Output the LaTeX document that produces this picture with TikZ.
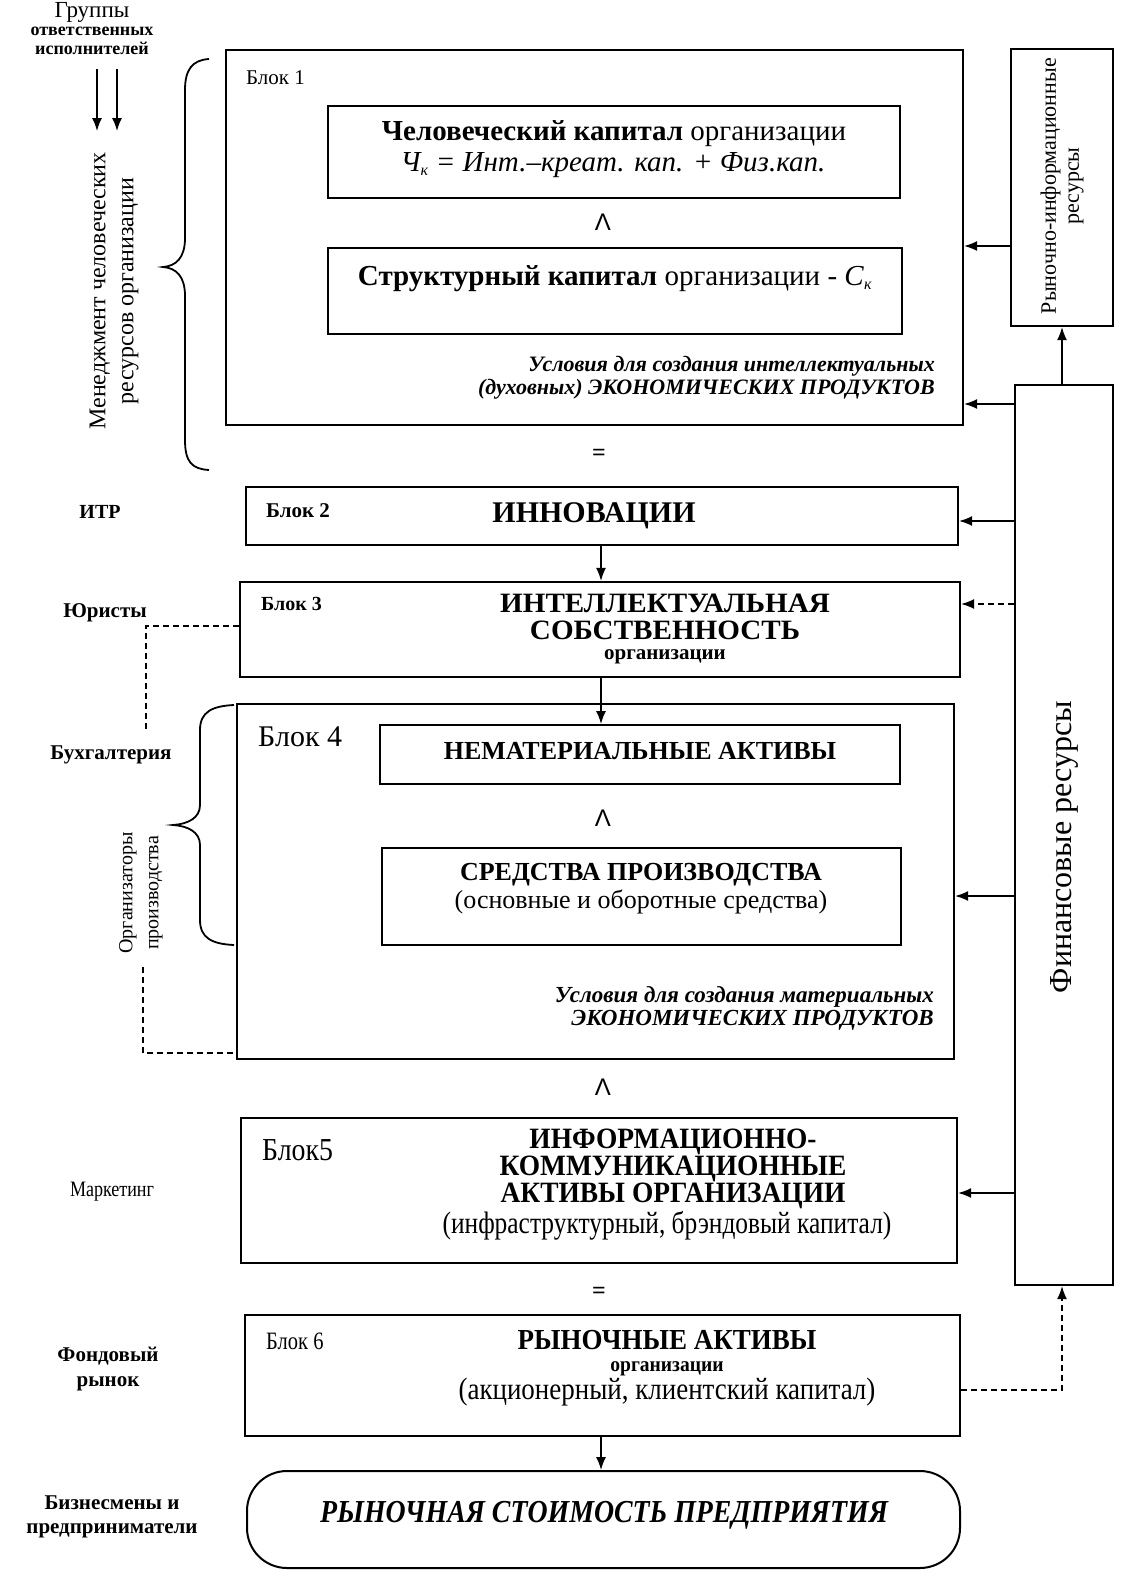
\documentclass[tikz,border=0pt]{standalone}
\usepackage{fontspec}
\setmainfont{Liberation Serif}
\newfontfamily\nserif[FakeStretch=0.82]{Liberation Serif}
\newfontfamily\mserif[FakeStretch=0.87]{Liberation Serif}
\newfontfamily\wserif[FakeStretch=0.93]{Liberation Serif}
\newfontfamily\xserif[FakeStretch=1.04]{Liberation Serif}
\newfontfamily\lsans{Liberation Sans}
\usetikzlibrary{arrows.meta,calc}
\newcommand\fsz[2]{\fontsize{#1}{#2}\selectfont}
\begin{document}
\begin{tikzpicture}[x=1pt,y=-1pt,
  blk/.style={draw, line width=2.2pt, inner sep=0pt},
  ibox/.style={draw, line width=2pt, inner sep=0pt},
  arr/.style={line width=1.5pt, -{Latex[length=13pt,width=10pt]}},
  darr/.style={arr, dash pattern=on 6pt off 4pt},
  dline/.style={line width=1.5pt, dash pattern=on 6pt off 4pt},
  lbl/.style={inner sep=0pt, align=center},
  brc/.style={line width=1.8pt},
  lam/.style={inner sep=0pt, font=\lsans\fsz{24}{24}},
]
\useasboundingbox (0,0) rectangle (1137,1596);

% ---------- top-left group label and arrows
\node[lbl, font=\fsz{23}{23}] (grp1) at (92,12) {Группы};
\node[lbl, font=\bfseries\fsz{18}{18}] (grp2) at (92,31) {ответственных};
\node[lbl, font=\bfseries\fsz{18}{18}] (grp3) at (92,48) {исполнителей};
\coordinate (a1s) at (97,69);  \coordinate (a1e) at (97,131);
\coordinate (a2s) at (117,69); \coordinate (a2e) at (117,131);
\draw[arr] (a1s) -- (a1e);
\draw[arr] (a2s) -- (a2e);
\node[lbl, rotate=90, font=\fsz{24}{28}] (mgmt) at (114,291) {Менеджмент человеческих\\ресурсов организации};
\draw[brc] (209,59) .. controls (192,60) and (185,70) .. (185,90) -- (185,238)
  .. controls (185,258) and (176,266) .. (163,267) .. controls (176,268) and (185,276) .. (185,296)
  -- (185,440) .. controls (185,462) and (192,469) .. (209,470);

% ---------- Block 1
\node[blk, minimum width=737pt, minimum height=375pt] (b1) at (594.5,237.5) {};
\node[lbl, anchor=west, font=\fsz{21}{21}] (b1lab) at (246,78) {Блок 1};
\node[ibox, minimum width=572pt, minimum height=92pt] (hk) at (614,152) {};
\node[lbl, font=\fsz{29}{29}] (hk1) at (614,134) {\textbf{Человеческий капитал} организации};
\node[lbl, font=\itshape\fsz{29}{29}] (hk2) at (613,165) {Ч$_{\mbox{\fsz{16}{16}\itshape к}}$ = Инт.–креат. кап. + Физ.кап.};
\node[lam] (and1) at (603,222) {Λ};
\node[ibox, minimum width=574pt, minimum height=86pt] (sk) at (615,291) {};
\node[lbl, font=\fsz{29}{29}] (sktxt) at (615,279) {\textbf{Структурный капитал} организации - \textit{С}$_{\mbox{\fsz{16}{16}\itshape к}}$};
\node[lbl, align=right, anchor=east, font=\bfseries\itshape\fsz{22}{23}] (b1cond) at (935,378) {Условия для создания интеллектуальных\\(духовных) ЭКОНОМИЧЕСКИХ ПРОДУКТОВ};

% ---------- right-hand resource boxes
\node[blk, minimum width=102pt, minimum height=277pt] (rir) at (1062,187.5) {};
\node[lbl, rotate=90, font=\fsz{22}{23}] (rirtxt) at (1062,186) {Рыночно-информационные\\ресурсы};
\node[blk, minimum width=98pt, minimum height=900pt] (fin) at (1064,835) {};
\node[lbl, rotate=90, font=\fsz{32}{34}] (fintxt) at (1064,847) {Финансовые ресурсы};

% ---------- equal sign
\node[lbl, font=\bfseries\fsz{24}{24}] (eq1) at (599,455) {=};

% ---------- Block 2
\node[lbl, font=\bfseries\fsz{20}{20}] (itr) at (100,512) {ИТР};
\node[blk, minimum width=712pt, minimum height=58pt] (b2) at (602,516) {};
\node[lbl, anchor=west, font=\bfseries\fsz{21}{21}] (b2lab) at (266,511) {Блок 2};
\node[lbl, font=\bfseries\fsz{30}{30}] (b2txt) at (594,516) {ИННОВАЦИИ};

% ---------- Block 3
\node[lbl, font=\bfseries\fsz{21}{21}] (jur) at (105,613) {Юристы};
\node[blk, minimum width=720pt, minimum height=95pt] (b3) at (600,629.5) {};
\node[lbl, anchor=west, font=\bfseries\fsz{20}{20}] (b3lab) at (261,604) {Блок 3};
\node[lbl, anchor=base, font=\xserif\bfseries\fsz{28}{28}] (b3t1) at (665,612) {ИНТЕЛЛЕКТУАЛЬНАЯ};
\node[lbl, anchor=base, font=\xserif\bfseries\fsz{28}{28}] (b3t2) at (665,639) {СОБСТВЕННОСТЬ};
\node[lbl, anchor=base, font=\bfseries\fsz{21}{21}] (b3t3) at (665,659) {организации};

% ---------- Block 4
\node[lbl, font=\bfseries\fsz{21}{21}] (buh) at (111,755) {Бухгалтерия};
\node[lbl, rotate=90, font=\fsz{20}{26}] (orgp) at (141,893) {Организаторы\\производства};
\draw[brc] (234,705) .. controls (212,706) and (200,712) .. (200,730) -- (200,805)
  .. controls (200,818) and (188,824) .. (173,825) .. controls (188,826) and (200,832) .. (200,845)
  -- (200,920) .. controls (200,938) and (212,944) .. (234,945);
\node[blk, minimum width=717pt, minimum height=355pt] (b4) at (595.5,881.5) {};
\node[lbl, anchor=west, font=\fsz{30}{30}] (b4lab) at (258,737) {Блок 4};
\node[ibox, minimum width=520pt, minimum height=59pt] (nem) at (640,754.5) {};
\node[lbl, font=\bfseries\fsz{26}{26}] (nemtxt) at (640,751) {НЕМАТЕРИАЛЬНЫЕ АКТИВЫ};
\node[lam] (and2) at (603,818) {Λ};
\node[ibox, minimum width=519pt, minimum height=97pt] (sp) at (641.5,896.5) {};
\node[lbl, font=\bfseries\fsz{26}{26}] (sp1) at (641,875) {СРЕДСТВА ПРОИЗВОДСТВА};
\node[lbl, font=\fsz{26}{26}] (sp2) at (641,902) {(основные и оборотные средства)};
\node[lbl, align=right, anchor=east, font=\bfseries\itshape\fsz{23}{23}] (b4cond) at (934,1008) {Условия для создания материальных\\ЭКОНОМИЧЕСКИХ ПРОДУКТОВ};

\node[lam] (and3) at (603,1087) {Λ};

% ---------- Block 5
\node[lbl, font=\nserif\fsz{22}{22}] (mark) at (112,1192) {Маркетинг};
\node[blk, minimum width=716pt, minimum height=145pt] (b5) at (599,1190.5) {};
\node[lbl, anchor=base west, font=\mserif\fsz{32}{32}] (b5lab) at (262,1160) {Блок5};
\node[lbl, anchor=base, font=\wserif\bfseries\fsz{29.5}{30}] (b5t1) at (673,1148) {ИНФОРМАЦИОННО-};
\node[lbl, anchor=base, font=\wserif\bfseries\fsz{29.5}{30}] (b5t2) at (673,1175) {КОММУНИКАЦИОННЫЕ};
\node[lbl, anchor=base, font=\wserif\bfseries\fsz{29.5}{30}] (b5t3) at (673,1202) {АКТИВЫ ОРГАНИЗАЦИИ};
\node[lbl, anchor=base, font=\nserif\fsz{31}{31}] (b5sub) at (667,1233) {(инфраструктурный, брэндовый капитал)};

\node[lbl, font=\bfseries\fsz{24}{24}] (eq2) at (599,1293) {=};

% ---------- Block 6
\node[lbl, font=\bfseries\fsz{21}{25}] (fond) at (108,1369) {Фондовый\\рынок};
\node[blk, minimum width=715pt, minimum height=121pt] (b6) at (602.5,1375.5) {};
\node[lbl, anchor=west, font=\nserif\fsz{25}{25}] (b6lab) at (266,1341) {Блок 6};
\node[lbl, anchor=base, font=\wserif\bfseries\fsz{29}{30}] (b6t1) at (667,1349) {РЫНОЧНЫЕ АКТИВЫ};
\node[lbl, anchor=base, font=\wserif\bfseries\fsz{21}{22}] (b6t2) at (667,1371) {организации};
\node[lbl, anchor=base, font=\mserif\fsz{31}{32}] (b6t3) at (667,1399) {(акционерный, клиентский капитал)};

% ---------- Final rounded box
\node[lbl, font=\bfseries\fsz{21}{24}] (biz) at (112,1517) {Бизнесмены и\\предприниматели};
\node[draw, line width=2pt, rounded corners=40pt, minimum width=713pt, minimum height=97pt, inner sep=0pt] (rs) at (603.5,1519.5) {};
\node[lbl, font=\mserif\bfseries\itshape\fsz{32}{32}] (rstxt) at (604,1515) {РЫНОЧНАЯ СТОИМОСТЬ ПРЕДПРИЯТИЯ};

% ---------- vertical flow arrows
\draw[arr] (b2.south -| 601,0) -- (b3.north -| 601,0);
\draw[arr] (b3.south -| 601,0) -- (nem.north -| 601,0);
\draw[arr] (b6.south -| 601,0) -- (rs.north -| 601,0);

% ---------- resource arrows
\draw[arr] (fin.north -| rir.south) -- (rir.south);
\draw[arr] (rir.west |- 0,246) -- (b1.east |- 0,246);
\draw[arr] (fin.west |- 0,404) -- (b1.east |- 0,404);
\draw[arr] (fin.west |- 0,521) -- (b2.east |- 0,521);
\draw[darr] (fin.west |- 0,604) -- (b3.east |- 0,604);
\draw[arr] (fin.west |- 0,896) -- (b4.east |- 0,896);
\draw[arr] (fin.west |- 0,1193) -- (b5.east |- 0,1193);
\draw[darr] (b6.east |- 0,1390) -- (1062,1390) -- (fin.south -| 1062,0);

% ---------- dashed links on the left
\coordinate (d1e) at (146,730);
\draw[dline] (b3.west |- 0,626) -- (146,626) -- (d1e);
\coordinate (d2s) at (143,967);
\draw[dline] (d2s) -- (143,1053) -- (b4.west |- 0,1053);
\end{tikzpicture}
\end{document}
